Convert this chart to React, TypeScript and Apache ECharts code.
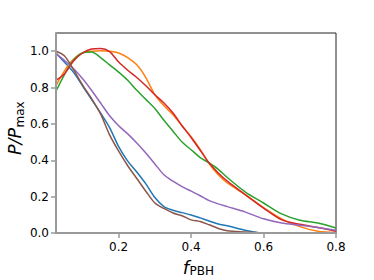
import React, { useEffect, useRef } from "react";
import * as echarts from "echarts";

const xGrid = [0.027, 0.05, 0.075, 0.1, 0.125, 0.15, 0.175, 0.2, 0.225, 0.25, 0.275, 0.3, 0.325, 0.35, 0.375, 0.4, 0.425, 0.45, 0.475, 0.5, 0.55, 0.6, 0.65, 0.7, 0.75, 0.8];

const blueY = [0.99, 0.94, 0.885, 0.81, 0.735, 0.66, 0.58, 0.475, 0.395, 0.335, 0.27, 0.195, 0.145, 0.125, 0.112, 0.099, 0.083, 0.066, 0.049, 0.04, 0.015, 0, 0, 0, 0, 0];
const orangeY = [0.81, 0.89, 0.955, 0.99, 1.0, 1.003, 1.0, 0.99, 0.965, 0.925, 0.855, 0.76, 0.7, 0.65, 0.59, 0.53, 0.46, 0.38, 0.32, 0.275, 0.21, 0.14, 0.078, 0.035, 0.01, 0.003];
const greenY = [0.78, 0.87, 0.95, 0.99, 0.995, 0.965, 0.925, 0.885, 0.84, 0.785, 0.735, 0.685, 0.62, 0.56, 0.5, 0.458, 0.415, 0.385, 0.35, 0.305, 0.225, 0.165, 0.105, 0.07, 0.055, 0.027];
const redY = [0.84, 0.875, 0.945, 0.99, 1.012, 1.015, 0.998, 0.94, 0.895, 0.855, 0.81, 0.76, 0.715, 0.66, 0.59, 0.525, 0.455, 0.385, 0.33, 0.285, 0.21, 0.137, 0.072, 0.048, 0.03, 0.01];
const purpleY = [0.985, 0.95, 0.905, 0.85, 0.785, 0.715, 0.645, 0.59, 0.545, 0.495, 0.44, 0.38, 0.32, 0.285, 0.255, 0.23, 0.205, 0.178, 0.16, 0.145, 0.115, 0.078, 0.055, 0.043, 0.03, 0.015];
const brownY = [1.0, 0.975, 0.9, 0.815, 0.74, 0.655, 0.54, 0.45, 0.37, 0.3, 0.23, 0.165, 0.135, 0.11, 0.095, 0.072, 0.063, 0.045, 0.025, 0.012, 0.006, 0, 0, 0, 0, 0];

const seriesColors = ["#1f77b4", "#ff7f0e", "#2ca02c", "#d62728", "#9467bd", "#8c564b"];
const seriesValues = [blueY, orangeY, greenY, redY, purpleY, brownY];

const xTicks = [0.2, 0.4, 0.6, 0.8];
const yTicks = [0, 0.2, 0.4, 0.6, 0.8, 1.0];

const FONT = "DejaVu Sans";

export default function App() {
  const ref = useRef<HTMLDivElement>(null);
  useEffect(() => {
    if (!ref.current) return;
    const chart = echarts.init(ref.current, null, { renderer: "svg" });
    chart.setOption({
      animation: false,
      grid: {
        left: 56,
        right: 38,
        top: 33,
        bottom: 47,
        show: true,
        borderColor: "#222",
        borderWidth: 1,
        backgroundColor: "transparent",
      },
      xAxis: {
        type: "value",
        min: 0.027,
        max: 0.8,
        z: 10,
        axisLine: { show: true, onZero: false, lineStyle: { color: "#9a9a9a", width: 2 } },
        axisTick: { show: true, customValues: xTicks, length: 5, lineStyle: { color: "#9a9a9a", width: 1.5 } },
        axisLabel: {
          customValues: xTicks,
          color: "#000",
          fontSize: 12,
          fontFamily: FONT,
          margin: 8,
          formatter: (v: number) => v.toFixed(1),
        },
        splitLine: { show: false },
      },
      yAxis: {
        type: "value",
        min: 0,
        max: 1.1,
        z: 10,
        axisLine: { show: true, onZero: false, lineStyle: { color: "#9a9a9a", width: 2 } },
        axisTick: { show: true, customValues: yTicks, length: 5, lineStyle: { color: "#9a9a9a", width: 1.5 } },
        axisLabel: {
          customValues: yTicks,
          color: "#000",
          fontSize: 12,
          fontFamily: FONT,
          margin: 7,
          formatter: (v: number) => v.toFixed(1),
        },
        splitLine: { show: false },
      },
      series: seriesValues.map((ys, i) => ({
        type: "line",
        data: xGrid.map((x, j) => [x, ys[j]]),
        showSymbol: false,
        smooth: 0.3,
        lineStyle: { color: seriesColors[i], width: 1.5 },
        itemStyle: { color: seriesColors[i] },
        clip: true,
        z: 2,
      })),
      graphic: [
        {
          type: "group",
          x: 189,
          y: 267,
          children: [
            {
              type: "text",
              x: 0,
              y: 0,
              style: { text: "f", font: `italic 18px "${FONT}"`, fill: "#000", align: "right", verticalAlign: "middle" },
            },
            {
              type: "text",
              x: 0.5,
              y: 4,
              style: { text: "PBH", font: `12px "${FONT}"`, fill: "#000", align: "left", verticalAlign: "middle" },
            },
          ],
        },
        {
          type: "group",
          x: 15,
          y: 128,
          rotation: Math.PI / 2,
          children: [
            {
              type: "text",
              x: 0,
              y: 0,
              style: { text: "P/P", font: `italic 17.5px "${FONT}"`, fill: "#000", align: "right", verticalAlign: "middle" },
            },
            {
              type: "text",
              x: 0.5,
              y: 4.5,
              style: { text: "max", font: `12px "${FONT}"`, fill: "#000", align: "left", verticalAlign: "middle" },
            },
          ],
        },
      ],
    });
    return () => chart.dispose();
  }, []);
  return <div ref={ref} style={{ position: "absolute", left: 0, top: 0, width: 374, height: 280 }} />;
}
